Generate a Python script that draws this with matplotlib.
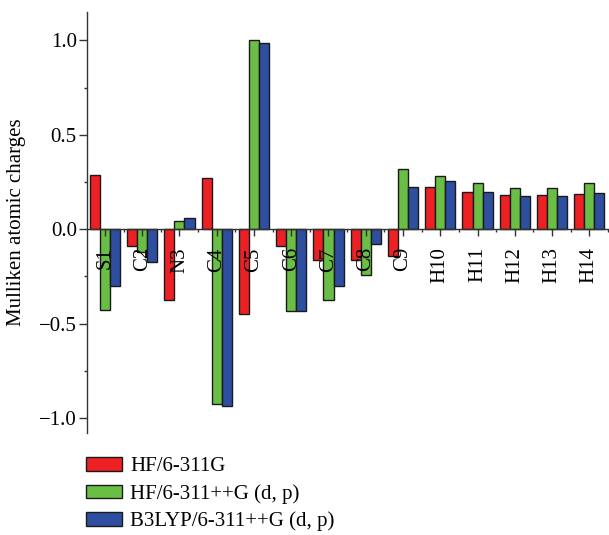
import numpy as np
import matplotlib
matplotlib.use('Agg')
import matplotlib.pyplot as plt
from matplotlib.ticker import MultipleLocator

plt.rcParams['font.family'] = ['Liberation Serif', 'DejaVu Serif']

atoms = ['S1', 'C2', 'N3', 'C4', 'C5', 'C6', 'C7', 'C8', 'C9',
         'H10', 'H11', 'H12', 'H13', 'H14']
hf_311g = [0.285, -0.090, -0.373, 0.269, -0.449, -0.090, -0.161, -0.161, -0.142,
           0.222, 0.195, 0.180, 0.180, 0.186]
hf_311g_dp = [-0.426, -0.120, 0.041, -0.928, 1.000, -0.436, -0.373, -0.245, 0.317,
              0.279, 0.245, 0.217, 0.217, 0.246]
b3lyp_311g_dp = [-0.304, -0.172, 0.060, -0.936, 0.988, -0.436, -0.303, -0.077, 0.225,
                 0.257, 0.195, 0.175, 0.177, 0.190]
series_names = ['HF/6-311G', 'HF/6-311++G (d, p)', 'B3LYP/6-311++G (d, p)']
colors = ['#ED2024', '#6ABD45', '#2E4E9F']

fig = plt.figure(figsize=(6.09, 5.35), dpi=100)
ax = fig.add_axes([87 / 609, 1 - 433 / 535, 521 / 609, 421 / 535])

x = np.arange(len(atoms))
w = 0.27
for k, (vals, name, c) in enumerate(zip([hf_311g, hf_311g_dp, b3lyp_311g_dp], series_names, colors)):
    ax.bar(x + (k - 1) * w, vals, w, color=c, edgecolor='#1a1a1a', linewidth=1.0, label=name)

ax.set_xlim(-0.48, 13.5)
ax.set_ylim(-1.08, 1.15)

# axis through zero, no box
ax.spines['top'].set_visible(False)
ax.spines['right'].set_visible(False)
ax.spines['bottom'].set_position(('data', 0))
for s in ('left', 'bottom'):
    ax.spines[s].set_linewidth(1.0)
    ax.spines[s].set_color('#333333')

ax.set_xticks(x, atoms, rotation=90)
ax.xaxis.set_minor_locator(MultipleLocator(1, offset=0.5))
ax.set_yticks([-1.0, -0.5, 0.0, 0.5, 1.0])
ax.yaxis.set_minor_locator(MultipleLocator(0.25))

ax.tick_params(axis='x', which='major', direction='out', length=5, width=1.0,
               color='#333333', pad=8, labelsize=15)
ax.tick_params(axis='x', which='minor', direction='out', length=2.2, width=1.0, color='#333333')
ax.tick_params(axis='y', which='major', direction='out', length=5.8, width=1.0,
               color='#333333', pad=1.5, labelsize=15)
ax.tick_params(axis='y', which='minor', direction='out', length=2.2, width=1.0, color='#333333')

ax.set_ylabel('Mulliken atomic charges', fontsize=15)
ax.yaxis.set_label_coords(-0.117, 0.5)

fs_px = 15 * 100 / 72
ax.legend(loc='upper left', bbox_to_anchor=(86 / 609, 1 - 457 / 535),
          bbox_transform=fig.transFigure, frameon=False, fontsize=15,
          borderpad=0, borderaxespad=0, handlelength=36 / fs_px,
          handleheight=13 / fs_px, handletextpad=8 / fs_px, labelspacing=0.38)

fig.savefig('out.png', dpi=100)
